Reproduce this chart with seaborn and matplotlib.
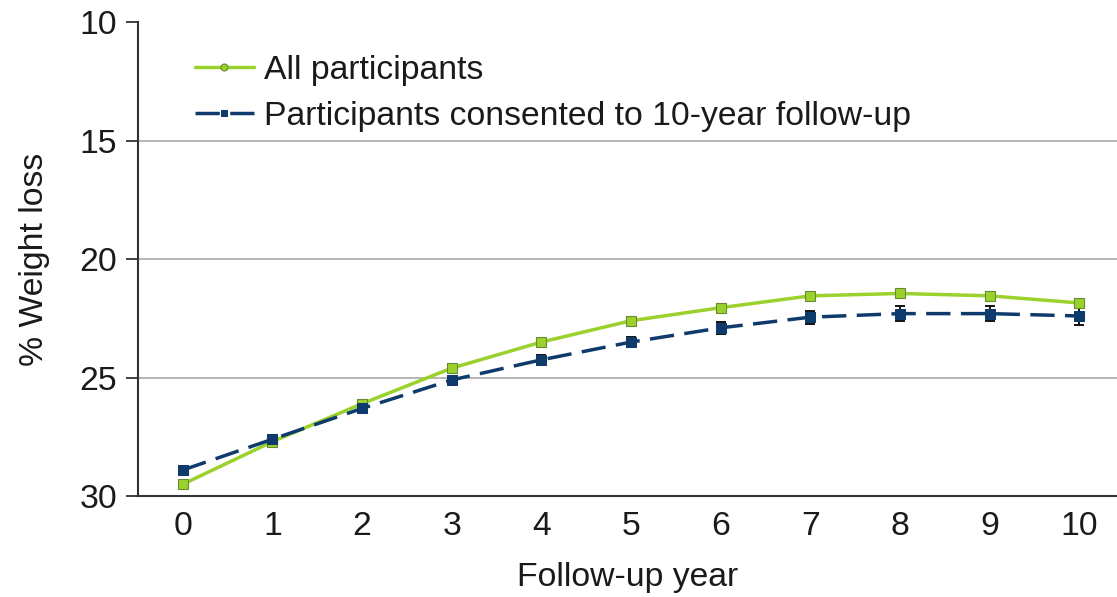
import matplotlib
matplotlib.use("Agg")
import matplotlib.pyplot as plt
import seaborn as sns
import pandas as pd
import numpy as np
from matplotlib.ticker import FixedLocator

years = [0, 1, 2, 3, 4, 5, 6, 7, 8, 9, 10]
all_participants = [29.5, 27.7, 26.1, 24.6, 23.5, 22.6, 22.05, 21.55, 21.45, 21.55, 21.85]
all_err = [0.12, 0.1, 0.1, 0.12, 0.12, 0.15, 0.15, 0.15, 0.15, 0.15, 0.18]
consented = [28.9, 27.6, 26.3, 25.1, 24.25, 23.5, 22.9, 22.45, 22.3, 22.3, 22.4]
consented_err = [0.15, 0.12, 0.12, 0.15, 0.2, 0.22, 0.25, 0.28, 0.3, 0.3, 0.4]
label_all = "All participants"
label_cons = "Participants consented to 10-year follow-up"
y_ticks = [10, 15, 20, 25, 30]

green = "#9BD12C"
navy = "#0E3B6C"
txt = "#1a1a1a"
fs = 24.3

sns.set_theme(style="white")
plt.rcParams["font.family"] = ["Liberation Sans", "DejaVu Sans"]

fig = plt.figure(figsize=(11.17, 5.97), dpi=100)
ax = fig.add_axes([0.1235, 0.169, 0.8765, 0.794])

df_all = pd.DataFrame({"year": years, "loss": all_participants})
df_cons = pd.DataFrame({"year": years, "loss": consented})

ax.errorbar(years, all_participants, yerr=all_err, fmt="none", ecolor="#333333",
            elinewidth=1.4, capsize=3.5, capthick=1.4, zorder=2)
ax.errorbar(years, consented, yerr=consented_err, fmt="none", ecolor="#111111",
            elinewidth=1.4, capsize=3.5, capthick=1.4, zorder=2)

sns.lineplot(data=df_all, x="year", y="loss", ax=ax, color=green, lw=2.5,
             marker="s", markersize=7.5, markeredgecolor="#6a8a30", markeredgewidth=0.8,
             label=label_all, zorder=3)
sns.lineplot(data=df_cons, x="year", y="loss", ax=ax, color=navy, lw=2.5,
             marker="s", markersize=7.5, markeredgecolor=navy, label=label_cons, zorder=4)
ax.lines[-1].set_dashes([7, 3])

ax.set_xlim(-0.5, 10.42)
ax.set_ylim(30, 10)
ax.set_yticks(y_ticks)
ax.set_xticks(years)
ax.xaxis.set_minor_locator(FixedLocator([y + 0.5 for y in years[:-1]] + [-0.5]))
for v in y_ticks[1:-1]:
    ax.axhline(v, color="#b0b0b0", lw=1.3, zorder=1)

ax.tick_params(axis="x", which="major", length=0, labelsize=fs, pad=11, colors=txt)
ax.tick_params(axis="x", which="minor", length=8, width=1.3, direction="in", color="#333333")
ax.tick_params(axis="y", which="major", length=9, width=1.3, direction="out", labelsize=fs,
               left=True, pad=6, color="#333333", colors=txt)
for lab in ax.get_yticklabels():
    lab.set_color(txt)

for s in ["top", "right"]:
    ax.spines[s].set_visible(False)
for s in ["left", "bottom"]:
    ax.spines[s].set_color("#333333")
    ax.spines[s].set_linewidth(1.5)

ax.set_xlabel("Follow-up year", fontsize=fs, labelpad=14, color=txt)
ax.set_ylabel("% Weight loss", fontsize=fs, labelpad=21, color=txt)

leg = ax.legend(loc="upper left", bbox_to_anchor=(0.027, 0.995), frameon=False,
                fontsize=fs, handlelength=1.75, handletextpad=0.3, labelspacing=0.44)
leg.legend_handles[0].set_marker("o")
for h in leg.legend_handles:
    h.set_markersize(5)
for t in leg.get_texts():
    t.set_color(txt)

fig.savefig("out.png", dpi=100)
